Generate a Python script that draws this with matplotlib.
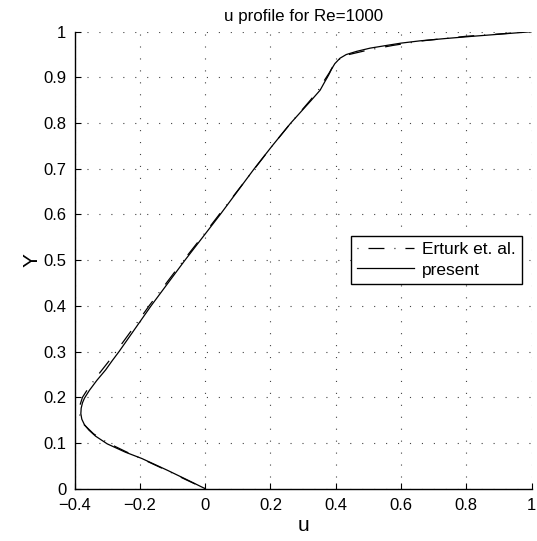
import matplotlib
matplotlib.use('Agg')
import matplotlib.pyplot as plt
import numpy as np

plt.rcParams['font.family'] = ['Liberation Sans', 'DejaVu Sans']
plt.rcParams['lines.scale_dashes'] = False

# u velocity along the vertical centreline, Re = 1000
y_present = [0, 0.02, 0.04, 0.066, 0.08, 0.098, 0.115, 0.128, 0.14, 0.152, 0.164,
             0.176, 0.188, 0.198, 0.215, 0.237, 0.26, 0.28, 0.3, 0.35, 0.4, 0.45,
             0.5, 0.55, 0.6, 0.65, 0.7, 0.75, 0.8, 0.85, 0.872, 0.89, 0.905, 0.918,
             0.93, 0.942, 0.95, 0.957, 0.964, 0.97, 0.975, 0.98, 0.985, 0.99, 0.995, 1.0]
u_present = [0, -0.057, -0.115, -0.194, -0.245, -0.300, -0.336, -0.356, -0.370, -0.378,
             -0.381, -0.380, -0.376, -0.370, -0.355, -0.332, -0.305, -0.285, -0.264,
             -0.215, -0.166, -0.114, -0.062, -0.008, 0.046, 0.098, 0.150, 0.205, 0.262,
             0.325, 0.352, 0.366, 0.378, 0.387, 0.397, 0.413, 0.432, 0.464, 0.505, 0.556,
             0.600, 0.658, 0.735, 0.820, 0.910, 1.0]

y_erturk = [0, 0.02, 0.04, 0.06, 0.08, 0.10, 0.12, 0.14, 0.16, 0.18, 0.20, 0.22, 0.25,
            0.28, 0.30, 0.35, 0.40, 0.45, 0.50, 0.55, 0.60, 0.65, 0.70, 0.75, 0.80,
            0.85, 0.87, 0.89, 0.91, 0.925, 0.94, 0.95, 0.96, 0.97, 0.98, 0.99, 1.0]
u_erturk = [0, -0.060, -0.118, -0.178, -0.240, -0.298, -0.342, -0.371, -0.384, -0.385,
            -0.376, -0.358, -0.327, -0.294, -0.273, -0.222, -0.172, -0.119, -0.066,
            -0.011, 0.043, 0.097, 0.151, 0.205, 0.262, 0.322, 0.345, 0.362, 0.380,
            0.392, 0.412, 0.440, 0.500, 0.575, 0.665, 0.800, 1.0]

xticks = np.arange(-0.4, 1.01, 0.2)
yticks = np.arange(0, 1.01, 0.1)


def tick_text(v):
    v = round(v, 1)
    if v == 0:
        return '0'
    return ('%g' % v).replace('-', '\u2212')


fig = plt.figure(figsize=(5.37, 5.41), dpi=100)
ax = fig.add_axes([0.139, 0.0967, 0.851, 0.8447])

dashdot = (0, (0.7, 7.2, 11.5, 7.2))
ax.plot(u_erturk, y_erturk, color='black', lw=0.9, linestyle=dashdot, label='Erturk et. al.')
ax.plot(u_present, y_present, color='black', lw=0.9, label='present')

ax.set_xlim(-0.4, 1)
ax.set_ylim(0, 1)
ax.set_xticks(xticks)
ax.set_yticks(yticks)
ax.set_xticklabels([tick_text(v) for v in xticks])
ax.set_yticklabels([tick_text(v) for v in yticks])

ax.grid(True, color='#444444', lw=0.8, linestyle=(0, (0.8, 7.8)))
ax.spines['top'].set_visible(False)
ax.spines['right'].set_visible(False)
for s in ('left', 'bottom'):
    ax.spines[s].set_linewidth(1.0)
ax.tick_params(direction='in', length=4, width=0.8, labelsize=12, pad=6)
ax.tick_params(axis='x', pad=7)

ax.set_xlabel('u', fontsize=15, labelpad=2)
ax.set_ylabel('Y', fontsize=15, labelpad=1)
ax.set_title('u profile for Re=1000', fontsize=12.2, pad=8)

leg = ax.legend(loc='upper right', bbox_to_anchor=(0.979, 0.553), fontsize=12.5,
                frameon=True, fancybox=False, framealpha=1, edgecolor='black',
                handlelength=3.3, handletextpad=0.45, borderpad=0.35, labelspacing=0.3,
                borderaxespad=0)
leg.get_frame().set_linewidth(1.0)

fig.savefig('out.png', dpi=100)
